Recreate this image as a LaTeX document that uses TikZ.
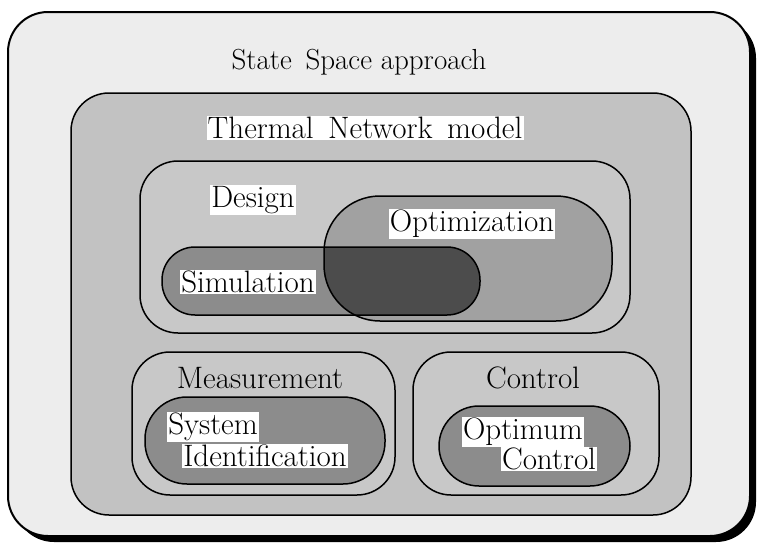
\documentclass[tikz,border=0pt]{standalone}
\usetikzlibrary{positioning}
\definecolor{paper}{gray}{0.93}
\definecolor{netgray}{gray}{0.76}
\definecolor{pillgray}{gray}{0.55}
\definecolor{optgray}{gray}{0.63}
\definecolor{overlapgray}{gray}{0.3}
\tikzset{
    box/.style={draw=black, line width=1.5pt, rounded corners=#1},
    tag/.style={fill=white, inner sep=1.2pt, font=\fontsize{31}{34}\selectfont},
    plaintag/.style={inner sep=1.2pt, font=\fontsize{31}{34}\selectfont},
}
\begin{document}
\begin{tikzpicture}[x=1pt, y=-1pt]
		\useasboundingbox (0,0) rectangle (760,546);
		% outer frame with shadow
		\fill[black, rounded corners=40] (14,18) rectangle (756,542);
		\filldraw[box=40, fill=paper, line width=2pt] (8,12) rectangle (750,536);
		\node[plaintag, font=\fontsize{29}{32}\selectfont] (state) at (359,62) {State\, Space approach};
		% thermal network
		\filldraw[box=38, fill=netgray] (71,93) rectangle (691,515);
		\node[tag] (thermal) at (365,128) {Thermal\, Network\, model};
		% design
		\filldraw[box=38, fill=netgray!90!white] (140,161) rectangle (630,333);
		\node[tag] (design) at (253,200) {Design};
		\fill[optgray, rounded corners=56] (324,196) rectangle (612,321);
		\fill[pillgray, rounded corners=33] (162,247) rectangle (480,315);
		\begin{scope}
			\clip[rounded corners=33] (162,247) rectangle (480,315);
			\fill[overlapgray, rounded corners=56] (324,196) rectangle (612,321);
		\end{scope}
		\draw[box=56] (324,196) rectangle (612,321);
		\draw[box=33] (162,247) rectangle (480,315);
		\node[tag] (optim) at (472,224) {Optimization};
		\node[tag] (simul) at (248,282) {Simulation};
		% measurement
		\filldraw[box=38, fill=netgray!90!white] (132,352) rectangle (395,495);
		\node[plaintag] (measure) at (260,378) {Measurement};
		\filldraw[box=42, fill=pillgray] (145,397) rectangle (385,484);
		\node[tag] (system) at (213,427) {System};
		\node[tag] (ident) at (265,456) {Identification};
		% control
		\filldraw[box=38, fill=netgray!90!white] (413,352) rectangle (659,495);
		\node[plaintag] (control) at (533,378) {Control};
		\filldraw[box=40, fill=pillgray] (439,406) rectangle (630,486);
		\node[tag] (optimum) at (523,432) {Optimum};
		\node[tag] (ocontrol) at (549,459) {Control};
\end{tikzpicture}
\end{document}
